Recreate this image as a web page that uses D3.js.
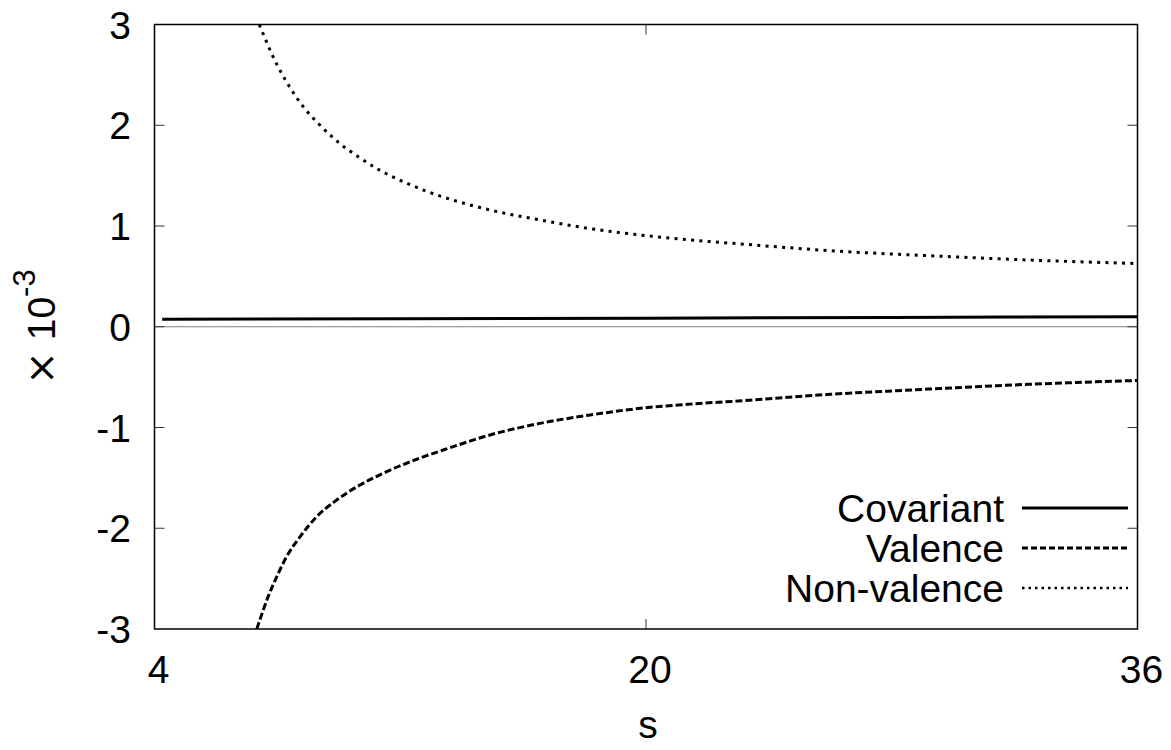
<!DOCTYPE html>
<html>
<head>
<meta charset="utf-8">
<script src="https://cdn.jsdelivr.net/npm/d3@7"></script>
<style>
  body { margin: 0; background: #fff; }
  text { font-family: "Liberation Sans", Arial, sans-serif; fill: #000; }
</style>
</head>
<body>
<div id="chart"></div>
<script>
// values (y in units of 1e-3)
var sCov = [4.25, 12, 20, 28, 36]
var covariant = [0.074, 0.079, 0.085, 0.092, 0.100]

var sVal = [7.33, 7.70, 7.98, 8.30, 8.74, 9.28, 9.93, 10.69, 11.56, 12.54, 13.56, 14.92, 16.55, 18.18, 19.8, 21.43, 23.0, 25.99, 29.24, 32.5, 36]
var valence = [-3.0, -2.679, -2.481, -2.282, -2.084, -1.885, -1.72, -1.571, -1.438, -1.315, -1.207, -1.074, -0.959, -0.876, -0.81, -0.768, -0.737, -0.671, -0.618, -0.571, -0.533]

var sNon = [7.41, 7.98, 8.38, 8.84, 9.39, 10.0, 10.66, 11.36, 12.1, 12.86, 13.6, 14.92, 16.55, 18.18, 19.8, 21.43, 23.0, 25.99, 29.24, 32.5, 36]
var nonValence = [3.0, 2.605, 2.39, 2.184, 2.0, 1.827, 1.682, 1.549, 1.44, 1.344, 1.268, 1.159, 1.06, 0.974, 0.911, 0.862, 0.824, 0.755, 0.705, 0.662, 0.627]

var xTicks = [4, 20, 36]
var yTicks = [-3, -2, -1, 0, 1, 2, 3]
var seriesNames = ["Covariant", "Valence", "Non-valence"]

var W = 1171, H = 750
var pLeft = 154.5, pRight = 1137.5, pTop = 24.5, pBottom = 629

var svg = d3.select('#chart')
  .append('svg')
  .attr("width", W)
  .attr("height", H)

var x = d3.scaleLinear().domain([4, 36]).range([pLeft, pRight])
var y = d3.scaleLinear().domain([-3, 3]).range([pBottom, pTop])

svg.append("clipPath").attr("id", "plotclip")
  .append("rect")
  .attr("x", pLeft).attr("y", pTop)
  .attr("width", pRight - pLeft).attr("height", pBottom - pTop)

// zero line
svg.append("line")
  .attr("x1", pLeft).attr("x2", pRight)
  .attr("y1", y(0)).attr("y2", y(0))
  .attr("stroke", "#808080")
  .attr("stroke-width", 1.2)

// ticks (inward, mirrored)
var tickLen = 10
yTicks.forEach(function (t) {
  if (t === 3 || t === -3) return
  svg.append("line").attr("x1", pLeft).attr("x2", pLeft + tickLen)
    .attr("y1", y(t)).attr("y2", y(t)).attr("stroke", "#333").attr("stroke-width", 1)
  svg.append("line").attr("x1", pRight).attr("x2", pRight - tickLen)
    .attr("y1", y(t)).attr("y2", y(t)).attr("stroke", "#333").attr("stroke-width", 1)
})
xTicks.forEach(function (t) {
  if (t === 4 || t === 36) return
  svg.append("line").attr("x1", x(t)).attr("x2", x(t))
    .attr("y1", pBottom).attr("y2", pBottom - tickLen).attr("stroke", "#333").attr("stroke-width", 1)
  svg.append("line").attr("x1", x(t)).attr("x2", x(t))
    .attr("y1", pTop).attr("y2", pTop + tickLen).attr("stroke", "#333").attr("stroke-width", 1)
})

// tick labels
svg.selectAll(".ylab")
  .data(yTicks)
  .enter()
  .append("text")
  .attr("x", 131)
  .attr("y", function (d) { return y(d) + 14 })
  .attr("text-anchor", "end")
  .attr("font-size", 39)
  .text(function (d) { return d })

svg.selectAll(".xlab")
  .data(xTicks)
  .enter()
  .append("text")
  .attr("x", function (d) { return x(d) + 4 })
  .attr("y", 683)
  .attr("text-anchor", "middle")
  .attr("font-size", 39)
  .text(function (d) { return d })

// axis labels
svg.append("text")
  .attr("x", 648)
  .attr("y", 738)
  .attr("text-anchor", "middle")
  .attr("font-size", 39)
  .text("s")

var ylab = svg.append("text")
  .attr("transform", "translate(55,327) rotate(-90)")
  .attr("text-anchor", "middle")
  .attr("font-size", 39)
ylab.append("tspan").attr("font-family", "DejaVu Sans").attr("font-size", 40).text("\u00d7")
ylab.append("tspan").text(" 10")
ylab.append("tspan").attr("dy", -20).attr("font-size", 31).text("-3")

// curves
var line = d3.line()
  .x(function (d) { return x(d[0]) })
  .y(function (d) { return y(d[1]) })
  .curve(d3.curveMonotoneX)

var plot = svg.append("g").attr("clip-path", "url(#plotclip)")

var styles = [
  { dash: null, width: 3 },
  { dash: "7 3", width: 3 },
  { dash: "3 5.3", width: 3 }
]
var allData = [
  d3.zip(sCov, covariant),
  d3.zip(sVal, valence),
  d3.zip(sNon, nonValence)
]

allData.forEach(function (pts, i) {
  plot.append("path")
    .datum(pts)
    .attr("d", line)
    .attr("fill", "none")
    .attr("stroke", "#000")
    .attr("stroke-width", styles[i].width)
    .attr("stroke-dasharray", styles[i].dash)
})

// legend
seriesNames.forEach(function (name, i) {
  var cy = 508 + i * 40
  svg.append("text")
    .attr("x", 1004)
    .attr("y", cy + 14)
    .attr("text-anchor", "end")
    .attr("font-size", 39)
    .text(name)
  svg.append("line")
    .attr("x1", 1022).attr("x2", 1128)
    .attr("y1", cy).attr("y2", cy)
    .attr("stroke", "#000")
    .attr("stroke-width", i === 2 ? 2.5 : styles[i].width)
    .attr("stroke-dasharray", i === 2 ? "2.5 4" : (i === 1 ? "6 3" : null))
})

// frame
svg.append("rect")
  .attr("x", pLeft).attr("y", pTop)
  .attr("width", pRight - pLeft).attr("height", pBottom - pTop)
  .attr("fill", "none")
  .attr("stroke", "#000")
  .attr("stroke-width", 1.5)
</script>
</body>
</html>
